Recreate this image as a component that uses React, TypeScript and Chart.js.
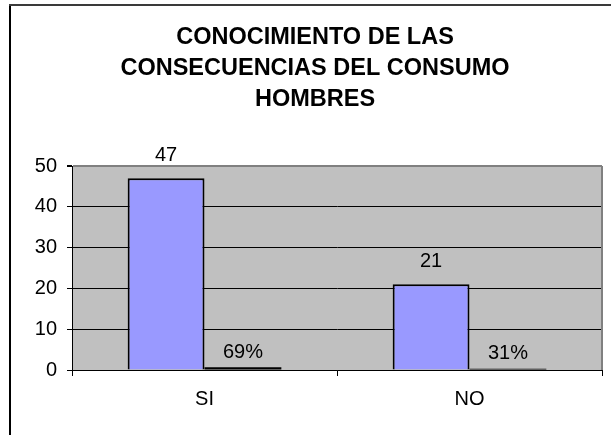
import React, { useEffect, useRef } from "react";
import { Chart, registerables } from "chart.js";

Chart.register(...registerables);

const categories = ["SI", "NO"];
const countValues = [47, 21];
const shareValues = [0.69, 0.31];
const shareLabels = ["69%", "31%"];
const yTicks = [0, 10, 20, 30, 40, 50];
const titleLines = ["CONOCIMIENTO DE LAS", "CONSECUENCIAS DEL CONSUMO", "HOMBRES"];

const FONT = "'Liberation Sans', Arial, sans-serif";

const decorPlugin = {
  id: "decor",
  beforeDraw(chart: any) {
    const { ctx, chartArea } = chart;
    ctx.save();
    ctx.fillStyle = "#ffffff";
    ctx.fillRect(0, 0, chart.width, chart.height);
    // outer frame
    ctx.strokeStyle = "#3a3a3a";
    ctx.lineWidth = 2;
    ctx.beginPath();
    ctx.moveTo(10, chart.height + 2);
    ctx.lineTo(10, 5);
    ctx.lineTo(chart.width + 2, 5);
    ctx.stroke();
    ctx.strokeStyle = "#000000";
    ctx.beginPath();
    ctx.moveTo(10, chart.height + 2);
    ctx.lineTo(10, 6);
    ctx.stroke();
    // plot background
    ctx.fillStyle = "#C0C0C0";
    ctx.fillRect(chartArea.left, chartArea.top, chartArea.right - chartArea.left, chartArea.bottom - chartArea.top);
    // title
    ctx.fillStyle = "#000000";
    ctx.font = `bold 23.5px ${FONT}`;
    ctx.textAlign = "center";
    ctx.textBaseline = "middle";
    titleLines.forEach((t, i) => ctx.fillText(t, 315, 38 + i * 31));
    ctx.restore();
  },
  afterDatasetsDraw(chart: any) {
    const { ctx, chartArea } = chart;
    ctx.save();
    // right border of plot area (gray)
    ctx.strokeStyle = "#808080";
    ctx.lineWidth = 2;
    ctx.beginPath();
    ctx.moveTo(chartArea.right, chartArea.top);
    ctx.lineTo(chartArea.right, chartArea.bottom);
    ctx.stroke();
    // data labels
    ctx.fillStyle = "#000000";
    ctx.font = `20px ${FONT}`;
    ctx.textAlign = "center";
    ctx.textBaseline = "middle";
    chart.data.datasets.forEach((ds: any, di: number) => {
      const meta = chart.getDatasetMeta(di);
      meta.data.forEach((bar: any, i: number) => {
        const txt = di === 0 ? String(countValues[i]) : shareLabels[i];
        const off = di === 0 ? 23 : 15;
        ctx.fillText(txt, bar.x, bar.y - off);
      });
    });
    ctx.restore();
  },
};

export default function App() {
  const ref = useRef<HTMLCanvasElement | null>(null);
  useEffect(() => {
    if (!ref.current) return;
    const chart = new Chart(ref.current, {
      type: "bar",
      data: {
        labels: categories,
        datasets: [
          {
            data: countValues,
            backgroundColor: "#9999FF",
            borderColor: "#000000",
            borderWidth: 2,
            categoryPercentage: 0.58,
            barPercentage: 1,
          },
          {
            data: shareValues,
            backgroundColor: "#000000",
            borderColor: "#000000",
            borderWidth: 0,
            categoryPercentage: 0.58,
            barPercentage: 1,
          },
        ],
      },
      options: {
        animation: false,
        responsive: false,
        maintainAspectRatio: false,
        layout: { padding: { left: 0, right: 9, top: 166, bottom: 13 } },
        plugins: {
          legend: { display: false },
          title: { display: false },
          tooltip: { enabled: false },
        },
        scales: {
          x: {
            offset: true,
            grid: {
              offset: true,
              drawOnChartArea: false,
              drawTicks: true,
              tickLength: 6,
              color: "#000000",
              tickColor: "#000000",
            },
            border: { color: "#000000", width: 1 },
            ticks: { color: "#000000", font: { family: FONT, size: 20 }, padding: 11 },
          },
          y: {
            min: 0,
            max: 50,
            afterBuildTicks(scale: any) {
              scale.ticks = yTicks.map((v) => ({ value: v }));
            },
            afterFit(scale: any) {
              scale.width = 72;
            },
            grid: {
              color: (c: any) => (c.tick && c.tick.value === 50 ? "#808080" : "#000000"),
              lineWidth: (c: any) => (c.tick && c.tick.value === 50 ? 2 : 1),
              tickLength: 5,
              tickColor: "#000000",
            },
            border: { color: "#000000", width: 1 },
            ticks: { color: "#000000", font: { family: FONT, size: 20 }, padding: 10 },
          },
        },
      },
      plugins: [decorPlugin],
    });
    return () => chart.destroy();
  }, []);
  return (
    <div style={{ position: "fixed", left: 0, top: 0, width: 611, height: 435 }}>
      <canvas ref={ref} width={611} height={435} style={{ display: "block", width: 611, height: 435 }} />
    </div>
  );
}
